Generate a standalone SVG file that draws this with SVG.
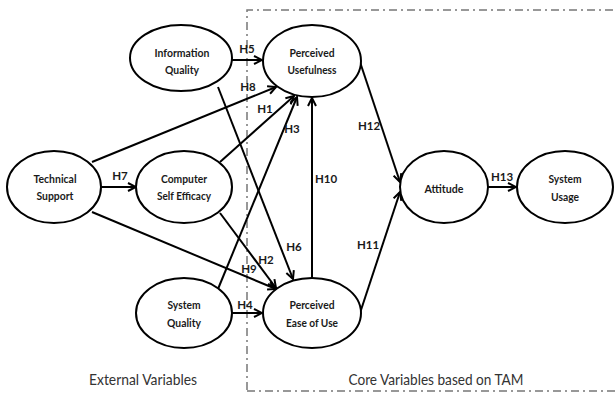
<svg xmlns="http://www.w3.org/2000/svg" width="615" height="394" viewBox="0 0 615 394">
  <style>
    .node ellipse { fill: #fff; stroke: #000; stroke-width: 2; }
    .node text { font-family: Lato, "Liberation Sans", sans-serif; font-weight: bold; font-size: 12px; fill: #1a1a1a; text-anchor: middle; }
    .edges line { stroke: #000; stroke-width: 2; marker-end: url(#arrow); }
    .lbl { font-family: Lato, "Liberation Sans", sans-serif; font-weight: bold; font-size: 11.5px; fill: #1a1a1a; text-anchor: middle; }
    .caption { font-family: Lato, "Liberation Sans", sans-serif; font-size: 15px; fill: #333; text-anchor: middle; }
    .frame { fill: none; stroke: #777; stroke-width: 1.5; stroke-dasharray: 8 4 2 4; }
  </style>
  <defs>
    <marker id="arrow" markerWidth="10" markerHeight="10" refX="9" refY="5" orient="auto" markerUnits="userSpaceOnUse">
      <path d="M1,1 L9,5 L1,9" fill="none" stroke="#000" stroke-width="2"/>
    </marker>
  </defs>

  <rect width="615" height="394" fill="#fff"/>

  <!-- TAM core boundary (right side runs off the page) -->
  <path class="frame" d="M247,390 L247,10 L625,10 M247,391 L625,391"/>

  <!-- connectors -->
  <g id="edges" class="edges">
    <line x1="232" y1="60" x2="262" y2="60"/>
    <line x1="92" y1="162" x2="276" y2="87"/>
    <line x1="220" y1="162" x2="294" y2="96"/>
    <line x1="218" y1="289" x2="297" y2="97"/>
    <line x1="218" y1="87" x2="293" y2="279"/>
    <line x1="220" y1="213" x2="276" y2="288"/>
    <line x1="92" y1="212" x2="276" y2="289"/>
    <line x1="232" y1="313" x2="262" y2="313"/>
    <line x1="101" y1="187" x2="136" y2="187"/>
    <line x1="312" y1="278" x2="312" y2="98"/>
    <line x1="360" y1="62" x2="400" y2="182"/>
    <line x1="360" y1="313" x2="400" y2="192"/>
    <line x1="487" y1="187" x2="516" y2="187"/>
  </g>

  <!-- hypothesis labels -->
  <g id="labels">
    <text class="lbl" x="247" y="53">H5</text>
    <text class="lbl" x="248" y="91">H8</text>
    <text class="lbl" x="265" y="113">H1</text>
    <text class="lbl" x="292" y="133">H3</text>
    <text class="lbl" x="120" y="180">H7</text>
    <text class="lbl" x="294" y="251">H6</text>
    <text class="lbl" x="266" y="264">H2</text>
    <text class="lbl" x="249" y="273">H9</text>
    <text class="lbl" x="245" y="309">H4</text>
    <text class="lbl" x="326" y="183">H10</text>
    <text class="lbl" x="369" y="130">H12</text>
    <text class="lbl" x="368" y="249">H11</text>
    <text class="lbl" x="502" y="181">H13</text>
  </g>

  <g id="information-quality" class="node">
    <ellipse cx="181" cy="58" rx="51" ry="33"/>
    <text x="182" y="57" textLength="55" lengthAdjust="spacingAndGlyphs">Information</text>
    <text x="182" y="74" textLength="34" lengthAdjust="spacingAndGlyphs">Quality</text>
  </g>
  <g id="perceived-usefulness" class="node">
    <ellipse cx="312" cy="61" rx="49" ry="36"/>
    <text x="312" y="57" textLength="45" lengthAdjust="spacingAndGlyphs">Perceived</text>
    <text x="312" y="74" textLength="49" lengthAdjust="spacingAndGlyphs">Usefulness</text>
  </g>
  <g id="technical-support" class="node">
    <ellipse cx="54" cy="187" rx="47" ry="36"/>
    <text x="55" y="183" textLength="43" lengthAdjust="spacingAndGlyphs">Technical</text>
    <text x="55" y="200" textLength="37" lengthAdjust="spacingAndGlyphs">Support</text>
  </g>
  <g id="computer-self-efficacy" class="node">
    <ellipse cx="184" cy="187" rx="48" ry="36"/>
    <text x="184" y="183" textLength="46" lengthAdjust="spacingAndGlyphs">Computer</text>
    <text x="184" y="200" textLength="54" lengthAdjust="spacingAndGlyphs">Self Efficacy</text>
  </g>
  <g id="system-quality" class="node">
    <ellipse cx="184" cy="313" rx="48" ry="35"/>
    <text x="184" y="309" textLength="33" lengthAdjust="spacingAndGlyphs">System</text>
    <text x="184" y="327" textLength="34" lengthAdjust="spacingAndGlyphs">Quality</text>
  </g>
  <g id="perceived-ease-of-use" class="node">
    <ellipse cx="312" cy="313" rx="49" ry="35"/>
    <text x="312" y="309" textLength="45" lengthAdjust="spacingAndGlyphs">Perceived</text>
    <text x="312" y="327" textLength="52" lengthAdjust="spacingAndGlyphs">Ease of Use</text>
  </g>
  <g id="attitude" class="node">
    <ellipse cx="444" cy="187" rx="44" ry="36"/>
    <text x="444" y="193" textLength="39" lengthAdjust="spacingAndGlyphs">Attitude</text>
  </g>
  <g id="system-usage" class="node">
    <ellipse cx="565" cy="187" rx="48" ry="36"/>
    <text x="565" y="183" textLength="33" lengthAdjust="spacingAndGlyphs">System</text>
    <text x="565" y="201" textLength="28" lengthAdjust="spacingAndGlyphs">Usage</text>
  </g>

  <text class="caption" x="143" y="385" textLength="108" lengthAdjust="spacingAndGlyphs">External Variables</text>
  <text class="caption" x="436" y="385" textLength="175" lengthAdjust="spacingAndGlyphs">Core Variables based on TAM</text>
</svg>
